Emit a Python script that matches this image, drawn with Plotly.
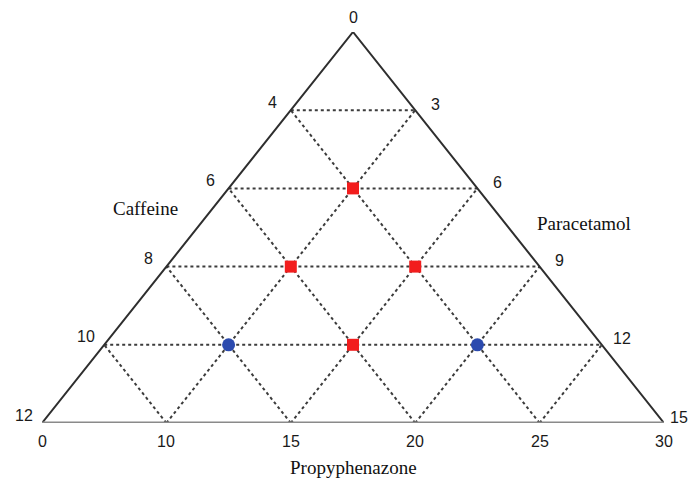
import plotly.graph_objects as go

# tick labels along each side of the triangle
caffeine_ticks = ["0", "4", "6", "8", "10", "12"]        # left side, apex -> bottom
paracetamol_ticks = ["0", "3", "6", "9", "12", "15"]     # right side, apex -> bottom
propyphenazone_ticks = ["0", "10", "15", "20", "25", "30"]  # base, left -> right

# design points on the lattice (u = position along base, v = level above base)
red_u = [2.5, 2.0, 3.0, 2.5]
red_v = [3.0, 2.0, 2.0, 1.0]
blue_u = [1.5, 3.5]
blue_v = [1.0, 1.0]

N = 5  # divisions per side

fig = go.Figure()

# dashed lattice
gx, gy = [], []
for k in range(1, N):
    # horizontal
    gx += [k / 2, N - k / 2, None]
    gy += [k, k, None]
    # parallel to left edge
    gx += [k, k + (N - k) / 2, None]
    gy += [0, N - k, None]
    # parallel to right edge
    gx += [k, k / 2, None]
    gy += [0, k, None]
fig.add_trace(go.Scatter(x=gx, y=gy, mode='lines', hoverinfo='skip',
                         line=dict(color='#3c3c3c', width=2, dash='3px,3px')))

# outer sides
fig.add_trace(go.Scatter(x=[0, N / 2, N], y=[0, N, 0], mode='lines', hoverinfo='skip',
                         line=dict(color='#2e2e2e', width=2)))
fig.add_trace(go.Scatter(x=[0, N], y=[0, 0], mode='lines', hoverinfo='skip',
                         line=dict(color='#8a8a8a', width=3)))

# design points
fig.add_trace(go.Scatter(x=red_u, y=red_v, mode='markers', cliponaxis=False,
                         marker=dict(symbol='square', size=12, color='#f21d1d')))
fig.add_trace(go.Scatter(x=blue_u, y=blue_v, mode='markers', cliponaxis=False,
                         marker=dict(symbol='circle', size=13, color='#2b4aae')))

tick_font = dict(family='Liberation Sans, Arial', size=16, color='#1a1a1a')
name_font = dict(family='Liberation Serif, Times New Roman', size=19, color='#111111')
annotations = []

for i, t in enumerate(caffeine_ticks):
    v = N - i
    if i == 0:
        annotations.append(dict(x=N / 2, y=N, text=t, showarrow=False, yshift=15, font=tick_font))
    else:
        annotations.append(dict(x=v / 2, y=v, text=t, showarrow=False,
                                xshift=-18, yshift=8, font=tick_font))
for i, t in enumerate(paracetamol_ticks):
    v = N - i
    if i == 0:
        continue
    annotations.append(dict(x=N - v / 2, y=v, text=t, showarrow=False,
                            xshift=20 if v else 15, yshift=6, font=tick_font))
for i, t in enumerate(propyphenazone_ticks):
    annotations.append(dict(x=i, y=0, text=t, showarrow=False, yshift=-18, font=tick_font))

annotations.append(dict(x=0.83, y=2.74, text='Caffeine', showarrow=False, font=name_font))
annotations.append(dict(x=4.36, y=2.55, text='Paracetamol', showarrow=False, font=name_font))
annotations.append(dict(x=0.5, y=-0.147, xref='paper', yref='paper', text='Propyphenazone',
                        showarrow=False, font=name_font))

fig.update_layout(
    width=700, height=480,
    margin=dict(l=34, r=44, t=24, b=65),
    paper_bgcolor='white', plot_bgcolor='white',
    showlegend=False,
    xaxis=dict(range=[0, N], visible=False, fixedrange=True),
    yaxis=dict(range=[0, N], visible=False, fixedrange=True),
    annotations=annotations,
)

fig.write_html("out.html")
